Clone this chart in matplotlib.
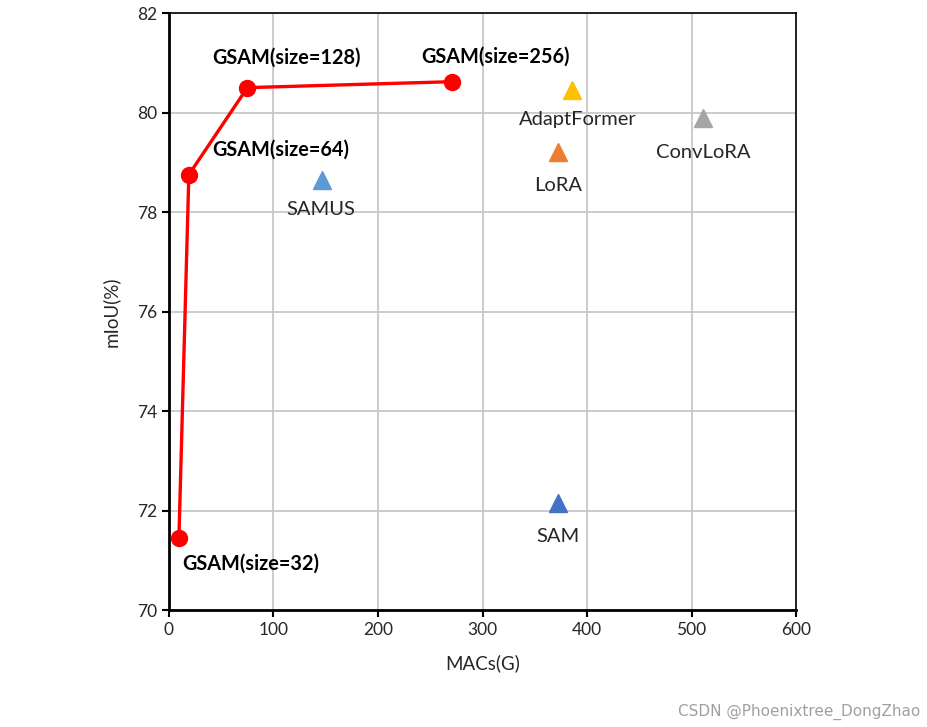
import matplotlib.pyplot as plt

plt.rcParams['font.family'] = ['Lato', 'DejaVu Sans']

# GSAM curve
gsam_macs = [9.5, 19, 75, 271]
gsam_miou = [71.45, 78.75, 80.5, 80.62]
gsam_labels = ['GSAM(size=32)', 'GSAM(size=64)', 'GSAM(size=128)', 'GSAM(size=256)']
gsam_label_pos = [(13, 70.93), (41, 79.25), (41, 81.1), (241, 81.12)]

# other methods
other_names = ['SAMUS', 'SAM', 'LoRA', 'AdaptFormer', 'ConvLoRA']
other_macs = [146, 372, 372, 386, 511]
other_miou = [78.65, 72.15, 79.2, 80.45, 79.88]
other_colors = ['#5B9BD5', '#4472C4', '#ED7D31', '#FFC000', '#A5A5A5']
other_label_pos = [(145, 78.05), (372, 71.47), (372, 78.53), (391, 79.85), (511, 79.2)]

fig = plt.figure(figsize=(9.27, 7.27), dpi=100)
ax = fig.add_axes([0.1823, 0.1609, 0.6764, 0.8212])

ax.plot(gsam_macs, gsam_miou, color='#FF0000', lw=2.4, marker='o', ms=11.5, zorder=3)
for lab, (x, y) in zip(gsam_labels, gsam_label_pos):
    ax.text(x, y, lab, fontsize=14.3, fontweight='bold', ha='left', va='center', color='black')

for name, x, y, c, (lx, ly) in zip(other_names, other_macs, other_miou, other_colors, other_label_pos):
    ax.plot(x, y, marker='^', ms=13, color=c, ls='none', zorder=3)
    ax.text(lx, ly, name, fontsize=14.5, ha='center', va='center', color='#262626')

ax.set_xlim(0, 600)
ax.set_ylim(70, 82)
ax.set_xticks(range(0, 601, 100))
ax.set_yticks(range(70, 83, 2))
ax.grid(True, color='#C8C8C8', lw=1.3)
ax.set_axisbelow(True)
for s in ax.spines.values():
    s.set_color('black')
    s.set_linewidth(1.2)
ax.spines['left'].set_linewidth(2)
ax.spines['bottom'].set_linewidth(2)
ax.tick_params(direction='out', length=5, width=1.5, labelsize=12.5, colors='black', labelcolor='#262626')
ax.set_xlabel('MACs(G)', fontsize=13.5, color='#262626', labelpad=12)
ax.set_ylabel('mIoU(%)', fontsize=13.5, color='#262626', labelpad=12)

fig.text(0.993, 0.01, 'CSDN @Phoenixtree_DongZhao', ha='right', va='bottom',
         fontsize=11, color='#A0A0A0', family='DejaVu Sans')

fig.savefig('out.png', dpi=100)
